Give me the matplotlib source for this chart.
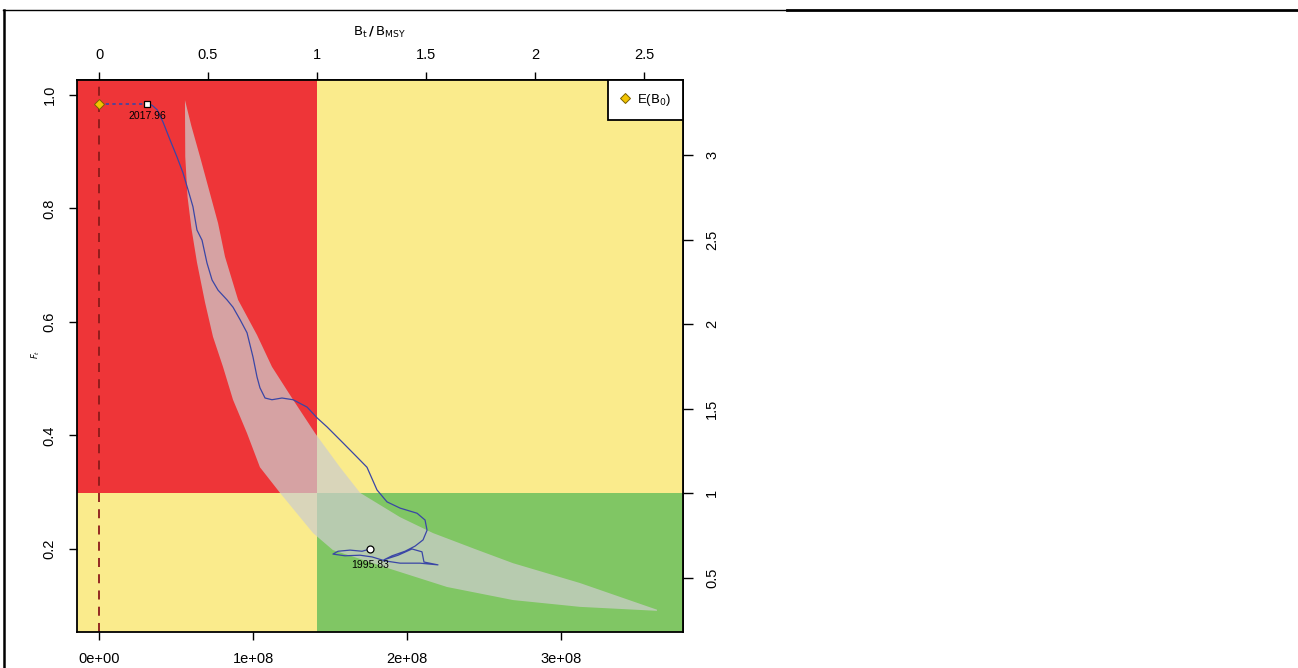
import numpy as np
import matplotlib.pyplot as plt
from matplotlib.lines import Line2D

plt.rcParams['font.family'] = ['Liberation Sans', 'DejaVu Sans']

# reference points
bmsy = 1.4156e8
fmsy = 0.298

# stock trajectory, 1995.83 -> 2017.96
biomass = [1.760e8, 1.708e8, 1.630e8, 1.552e8, 1.519e8, 1.597e8, 1.695e8, 1.773e8,
           1.857e8, 1.955e8, 2.084e8, 2.201e8, 2.110e8, 2.097e8, 2.032e8, 1.942e8,
           1.851e8, 1.903e8, 1.987e8, 2.052e8, 2.104e8, 2.130e8, 2.117e8, 2.065e8,
           1.955e8, 1.870e8, 1.805e8, 1.740e8, 1.675e8, 1.584e8, 1.481e8, 1.416e8,
           1.351e8, 1.260e8, 1.188e8, 1.123e8, 1.078e8, 1.045e8, 1.026e8, 1.000e8,
           0.961e8, 0.916e8, 0.870e8, 0.831e8, 0.773e8, 0.734e8, 0.701e8, 0.669e8,
           0.636e8, 0.610e8, 0.578e8, 0.545e8, 0.506e8, 0.461e8, 0.416e8, 0.377e8,
           0.344e8, 0.312e8]
fishing = [0.200, 0.196, 0.198, 0.196, 0.191, 0.188, 0.189, 0.186,
           0.179, 0.175, 0.175, 0.172, 0.177, 0.195, 0.200, 0.189,
           0.181, 0.188, 0.196, 0.205, 0.216, 0.233, 0.251, 0.263,
           0.272, 0.283, 0.304, 0.344, 0.362, 0.387, 0.415, 0.431,
           0.450, 0.463, 0.466, 0.463, 0.466, 0.484, 0.503, 0.538,
           0.581, 0.604, 0.626, 0.639, 0.656, 0.674, 0.704, 0.744,
           0.762, 0.803, 0.833, 0.863, 0.891, 0.921, 0.952, 0.974,
           0.982, 0.984]
start_label = '1995.83'
end_label = '2017.96'

# E(B0) point
b0_x = 0.0
b0_y = 0.984

# uncertainty region (upper and lower edges)
upper_b = [0.558e8, 0.600e8, 0.656e8, 0.715e8, 0.773e8, 0.818e8, 0.903e8, 1.026e8,
           1.123e8, 1.260e8, 1.403e8, 1.565e8, 1.695e8, 1.955e8, 2.169e8, 2.450e8,
           2.688e8, 3.123e8, 3.623e8]
upper_f = [0.991, 0.945, 0.891, 0.832, 0.774, 0.715, 0.639, 0.577,
           0.521, 0.463, 0.404, 0.344, 0.299, 0.256, 0.228, 0.199,
           0.175, 0.140, 0.093]
lower_b = [0.558e8, 0.560e8, 0.575e8, 0.600e8, 0.636e8, 0.688e8, 0.740e8, 0.805e8,
           0.870e8, 0.961e8, 1.045e8, 1.175e8, 1.305e8, 1.390e8, 1.519e8, 1.700e8,
           1.890e8, 2.260e8, 2.688e8, 3.123e8, 3.623e8]
lower_f = [0.991, 0.891, 0.820, 0.765, 0.705, 0.635, 0.574, 0.521,
           0.463, 0.404, 0.344, 0.299, 0.256, 0.228, 0.198, 0.182,
           0.165, 0.133, 0.110, 0.098, 0.091]

red = '#EE3538'
yellow = '#FAEB8C'
green = '#80C664'

fig = plt.figure(figsize=(12.98, 6.68), dpi=100)
ax = fig.add_axes([77 / 1298, 1 - 632 / 668, 606 / 1298, 552 / 668])
xmin, xmax = -1.43e7, 3.792e8
ymin, ymax = 0.0537, 1.0264

# kobe quadrants
ax.fill_between([xmin, bmsy], fmsy, ymax, color=red, lw=0)
ax.fill_between([bmsy, xmax], fmsy, ymax, color=yellow, lw=0)
ax.fill_between([xmin, bmsy], ymin, fmsy, color=yellow, lw=0)
ax.fill_between([bmsy, xmax], ymin, fmsy, color=green, lw=0)

poly_x = upper_b + lower_b[::-1]
poly_y = upper_f + lower_f[::-1]
ax.fill(poly_x, poly_y, color='#CDCDCD', alpha=0.72, lw=0)

ax.axvline(0, color='#8B1A1A', lw=1.3, ls=(0, (5, 4)))
ax.plot([b0_x, biomass[-1]], [b0_y, fishing[-1]], color='#3A46A6', lw=1.2, ls=(0, (2, 2)))
ax.plot(biomass, fishing, color='#3A46A6', lw=0.9)
ax.plot(biomass[0], fishing[0], 'o', ms=5, mfc='white', mec='black', mew=0.9)
ax.plot(biomass[-1], fishing[-1], 's', ms=5, mfc='white', mec='black', mew=0.9)
ax.plot(b0_x, b0_y, 'D', ms=5, mfc='#F2C400', mec='#7A6000', mew=0.7)

ax.annotate(end_label, (biomass[-1], fishing[-1]), xytext=(0, -5), textcoords='offset points',
            ha='center', va='top', fontsize=7.5)
ax.annotate(start_label, (biomass[0], fishing[0]), xytext=(0, -8), textcoords='offset points',
            ha='center', va='top', fontsize=7.5)

ax.set_xlim(xmin, xmax)
ax.set_ylim(ymin, ymax)

ax.set_xticks([0, 1e8, 2e8, 3e8])
ax.set_xticklabels(['0e+00', '1e+08', '2e+08', '3e+08'])
ax.set_yticks([0.2, 0.4, 0.6, 0.8, 1.0])
ax.set_yticklabels(['0.2', '0.4', '0.6', '0.8', '1.0'])
ax.tick_params(direction='out', length=6, width=1, labelsize=10.5, pad=8.5)
for lab in ax.get_yticklabels():
    lab.set_rotation(90)
    lab.set_va('center')
for s in ax.spines.values():
    s.set_linewidth(1.3)

top = ax.secondary_xaxis('top', functions=(lambda b: b / bmsy, lambda r: r * bmsy))
top.set_xticks([0, 0.5, 1, 1.5, 2, 2.5])
top.set_xticklabels(['0', '0.5', '1', '1.5', '2', '2.5'])
top.tick_params(direction='out', length=6, width=1, labelsize=10.5, pad=7)

right = ax.secondary_yaxis('right', functions=(lambda f: f / fmsy, lambda r: r * fmsy))
right.set_yticks([0.5, 1, 1.5, 2, 2.5, 3])
right.set_yticklabels(['0.5', '1', '1.5', '2', '2.5', '3'])
right.tick_params(direction='out', length=7, width=1, labelsize=10.5, pad=9)
for lab in right.get_yticklabels():
    lab.set_rotation(90)
    lab.set_va('center')
for sec in (top, right):
    for s in sec.spines.values():
        s.set_linewidth(1.3)

ax.legend(handles=[Line2D([], [], ls='none', marker='D', ms=5, mfc='#F2C400', mec='#7A6000', mew=0.7)],
          labels=[r'E($\mathrm{B_0}$)'], loc='upper right', borderaxespad=0, fancybox=False,
          edgecolor='black', framealpha=1, handlelength=0.8, handletextpad=0.5,
          borderpad=0.9, prop={'size': 9.5})
ax.get_legend().get_frame().set_linewidth(1.3)

fig.text(380 / 1298, 1 - 32 / 668, r'$\mathrm{B_t}\,\mathbf{/}\,\mathrm{B_{MSY}}$', ha='center', va='center',
         fontsize=9.5)
fig.text(36 / 1298, 1 - 354 / 668, r'$F_t$', ha='center', va='center', fontsize=6, rotation=90)

# outer frame lines
fig.add_artist(Line2D([3 / 1298, 787 / 1298], [1 - 10 / 668] * 2, transform=fig.transFigure,
                      color='black', lw=1))
fig.add_artist(Line2D([787 / 1298, 1], [1 - 10 / 668] * 2, transform=fig.transFigure,
                      color='black', lw=2))
fig.add_artist(Line2D([4 / 1298] * 2, [0, 1 - 10 / 668], transform=fig.transFigure,
                      color='black', lw=1.8))

fig.savefig('out.png', dpi=100)
